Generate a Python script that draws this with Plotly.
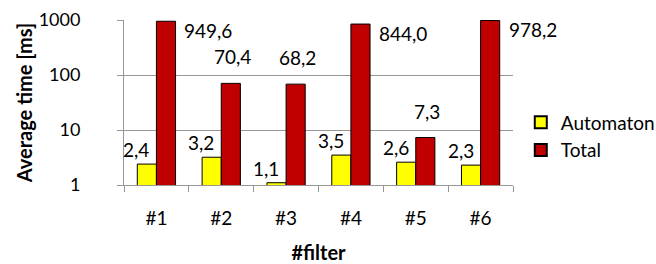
import math
import plotly.graph_objects as go

categories = ["#1", "#2", "#3", "#4", "#5", "#6"]
automaton = [2.4, 3.2, 1.1, 3.5, 2.6, 2.3]
total = [949.6, 70.4, 68.2, 844.0, 7.3, 978.2]
y_ticks = [1, 10, 100, 1000]

FONT = "Lato"
YELLOW = "#FFFF00"
RED = "#C00000"
GRID = "#979797"


def fmt(v):
    return f"{v:.1f}".replace(".", ",")


fig = go.Figure()
fig.add_trace(go.Bar(name="Automaton", x=categories, y=automaton,
                     marker=dict(color=YELLOW, line=dict(color="black", width=1))))
fig.add_trace(go.Bar(name="Total", x=categories, y=total,
                     marker=dict(color=RED, line=dict(color="black", width=1))))

annotations = []
for c, a, t in zip(categories, automaton, total):
    annotations.append(dict(x=c, y=math.log10(a), xref="x", yref="y", yanchor="bottom", xanchor="right",
                            text=fmt(a), showarrow=False, xshift=-5, yshift=1,
                            font=dict(family=FONT, size=19, color="black")))
    if t > 500:
        annotations.append(dict(x=c, y=math.log10(t), xref="x", yref="y", yanchor="middle", xanchor="left",
                                text=fmt(t), showarrow=False, xshift=26, yshift=-9,
                                font=dict(family=FONT, size=19, color="black")))
    else:
        annotations.append(dict(x=c, y=math.log10(t), xref="x", yref="y", yanchor="bottom", xanchor="center",
                                text=fmt(t), showarrow=False, xshift=11, yshift=13,
                                font=dict(family=FONT, size=19, color="black")))

fig.update_layout(
    width=656, height=264,
    margin=dict(l=124, r=143, t=20, b=79, autoexpand=False),
    paper_bgcolor="white", plot_bgcolor="white",
    barmode="group", bargap=0.41, bargroupgap=0,
    font=dict(family=FONT, size=17, color="black"),
    annotations=annotations,
    showlegend=True,
    legend=dict(x=1.02, y=0.294, xanchor="left", yanchor="middle",
                font=dict(family=FONT, size=19, color="black"),
                bgcolor="rgba(0,0,0,0)", tracegroupgap=0, itemsizing="constant"),
    xaxis=dict(
        range=[-0.5, len(categories) - 0.5], autorange=False, automargin=False,
        title=dict(text="<b>#filter</b>", font=dict(family=FONT, size=20), standoff=22),
        tickfont=dict(family=FONT, size=19),
        ticklabelstandoff=16,
        showline=True, linecolor=GRID, linewidth=1,
        ticks="outside", tickson="boundaries", ticklen=6, tickcolor=GRID,
        showgrid=False,
    ),
    yaxis=dict(
        type="log", range=[0, 3], autorange=False, automargin=False,
        tickvals=y_ticks, ticktext=[str(v) for v in y_ticks],
        title=dict(text="<b>Average time [ms]</b>", font=dict(family=FONT, size=20), standoff=0),
        tickfont=dict(family=FONT, size=18),
        ticklabelstandoff=33,
        showline=True, linecolor=GRID, linewidth=1,
        showgrid=True, gridcolor=GRID, gridwidth=1,
        ticks="outside", ticklen=6, tickcolor=GRID,
        zeroline=False,
    ),
)

fig.write_html("out.html", config={"displayModeBar": False},
               post_script="document.body.style.margin='0';")
